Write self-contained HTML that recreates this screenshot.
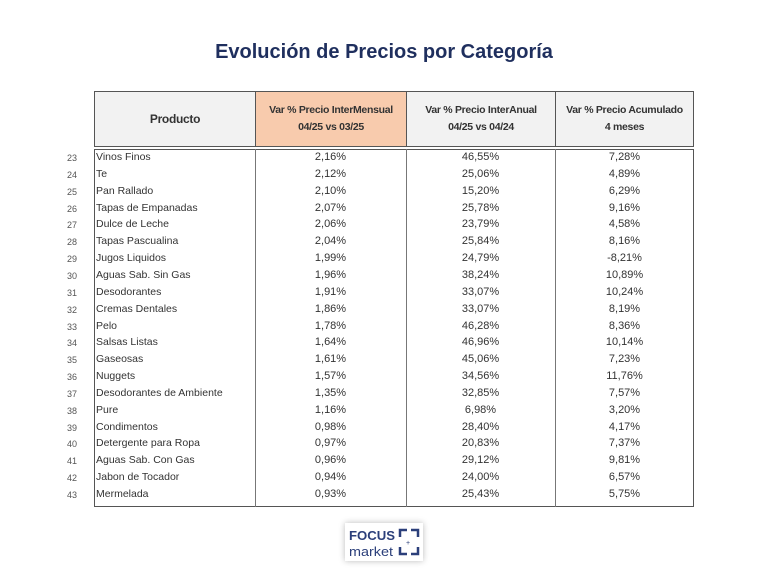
<!DOCTYPE html>
<html><head><meta charset="utf-8"><style>
body{margin:0;width:768px;height:578px;background:#fff;position:relative;overflow:hidden;font-family:"Liberation Sans",sans-serif}
#title{position:absolute;left:0;width:768px;top:41px;text-align:center;font-size:20px;font-weight:bold;color:#1f2f5e}
.hdr{position:absolute;top:91px;height:56px;border:1px solid #555;border-right:none;background:#f2f2f2;font-size:10.5px;letter-spacing:-0.3px;font-weight:bold;color:#333;display:flex;align-items:center;justify-content:center;text-align:center;line-height:17px;box-sizing:border-box}
#body{position:absolute;left:94px;top:149px;width:600px;height:358px;border:1px solid #555;box-sizing:border-box}
.vl{position:absolute;top:149px;height:358px;width:1px;background:#777}
.row{position:absolute;left:0;width:768px;height:17px;font-size:11px;color:#333}
.row span{position:absolute;top:2px}
.num{left:60px;width:24px;text-align:center;font-size:9px;color:#555;top:4px!important}
.name{left:96px;font-size:10.5px}
.c{text-align:center}
#logo{position:absolute;left:345px;top:523px;width:78px;height:38px;background:#fff;box-shadow:0 0 6px #bbb}
</style></head><body>
<div id="title">Evolución de Precios por Categoría</div>
<div class="hdr" style="left:94px;width:161px;font-size:12px">Producto</div>
<div class="hdr" style="left:255px;width:151px;background:#f8cbad">Var % Precio InterMensual<br>04/25 vs 03/25</div>
<div class="hdr" style="left:406px;width:149px">Var % Precio InterAnual<br>04/25 vs 04/24</div>
<div class="hdr" style="left:555px;width:139px;border-right:1px solid #555">Var % Precio Acumulado<br>4 meses</div>
<div id="body"></div>
<div class="vl" style="left:255px"></div><div class="vl" style="left:406px"></div><div class="vl" style="left:555px"></div>
<div id="rows"></div>
<div id="logo">
<svg width="78" height="38">
<text x="4" y="17" font-family="Liberation Sans" font-weight="bold" font-size="13" fill="#2b3f7a" textLength="46" lengthAdjust="spacingAndGlyphs">FOCUS</text>
<text x="4" y="33" font-family="Liberation Sans" font-size="13" fill="#2b3f7a" textLength="44" lengthAdjust="spacingAndGlyphs">market</text>
<path d="M55 14V7H62M66 7H73V14M55 24V31H62M66 31H73V24" stroke="#2b3f7a" stroke-width="2.5" fill="none"/>
<text x="61" y="22" font-size="7" fill="#2b3f7a">+</text>
</svg></div>
<script>
const categories=["Vinos Finos","Te","Pan Rallado","Tapas de Empanadas","Dulce de Leche","Tapas Pascualina","Jugos Liquidos","Aguas Sab. Sin Gas","Desodorantes","Cremas Dentales","Pelo","Salsas Listas","Gaseosas","Nuggets","Desodorantes de Ambiente","Pure","Condimentos","Detergente para Ropa","Aguas Sab. Con Gas","Jabon de Tocador","Mermelada"];
const interMensual=[2.16,2.12,2.10,2.07,2.06,2.04,1.99,1.96,1.91,1.86,1.78,1.64,1.61,1.57,1.35,1.16,0.98,0.97,0.96,0.94,0.93];
const interAnual=[46.55,25.06,15.20,25.78,23.79,25.84,24.79,38.24,33.07,33.07,46.28,46.96,45.06,34.56,32.85,6.98,28.40,20.83,29.12,24.00,25.43];
const acumulado=[7.28,4.89,6.29,9.16,4.58,8.16,-8.21,10.89,10.24,8.19,8.36,10.14,7.23,11.76,7.57,3.20,4.17,7.37,9.81,6.57,5.75];
const firstRow=23;
const fmt=v=>v.toFixed(2).replace('.',',')+'%';
const wrap=document.getElementById('rows');
categories.forEach((c,i)=>{
 const r=document.createElement('div');r.className='row';r.style.top=(149+i*16.85)+'px';
 
 
 r.innerHTML=`<span class="num">${firstRow+i}</span><span class="name">${c}</span>
 <span class="c" style="left:255px;width:151px">${fmt(interMensual[i])}</span>
 <span class="c" style="left:406px;width:149px">${fmt(interAnual[i])}</span>
 <span class="c" style="left:555px;width:139px">${fmt(acumulado[i])}</span>`;
 wrap.appendChild(r);
});
</script>
</body></html>
